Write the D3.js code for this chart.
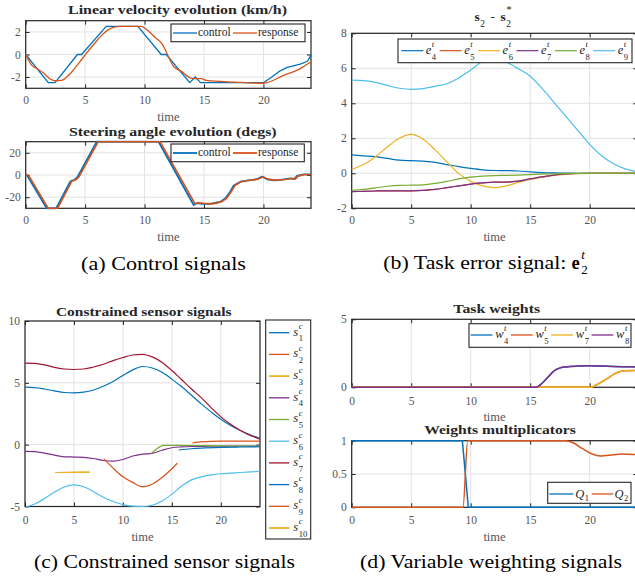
<!DOCTYPE html>
<html>
<head>
<meta charset="utf-8">
<script src="https://cdnjs.cloudflare.com/ajax/libs/d3/7.8.5/d3.min.js"></script>
<style>
  body { margin: 0; background: #fff; }
  svg { display: block; }
</style>
</head>
<body>
<svg id="fig" width="635" height="577"></svg>
<script>
// ---- data ----
var xTicks = [0, 5, 10, 15, 20];

// (a) linear velocity (km/h)
var velCtrlT = [0, 1.9, 2.47, 4.35, 4.7, 6.77, 9.43, 11.4, 11.82, 13.8, 14.27, 14.7, 20.0, 20.7, 21.4, 22.0, 23.1, 23.7, 24];
var velCtrlV = [0, -2.5, -2.5, 0, 0, 2.5, 2.5, 0, 0, -2.5, -2.0, -2.5, -2.5, -2.0, -1.45, -1.15, -0.85, -0.6, -0.05];
var velRespT = [0, 0.5, 0.95, 1.5, 2.1, 2.5, 3.0, 3.7, 4.55, 5.1, 5.8, 6.4, 7.2, 7.9, 9.7, 10.3, 10.9, 11.5, 11.9, 12.4, 13.1, 13.9, 14.4, 14.8, 15.2, 17.6, 20.0, 21.7, 23.1, 24];
var velRespV = [0, -0.95, -1.25, -1.65, -2.2, -2.33, -2.3, -1.75, -0.65, 0.1, 1.0, 1.72, 2.35, 2.5, 2.5, 2.1, 1.5, 0.9, 0.05, -1.0, -1.5, -2.1, -2.15, -2.15, -2.3, -2.45, -2.55, -1.85, -1.25, -0.65];

// (a) steering angle (degs)
var steerCtrlT = [0, 0.1, 1.77, 2.56, 3.74, 3.9, 4.07, 4.35, 5.98, 11.18, 14.13, 14.4, 14.83, 15.5, 16.0, 16.4, 16.8, 17.2, 17.5, 18.06, 18.6, 19.2, 19.5, 19.9, 20.3, 20.9, 21.3, 21.7, 22.3, 22.6, 22.8, 23.4, 24];
var steerCtrlV = [0, 0, -30, -30, -6, -5, -4.5, -2, 30, 30, -27, -25.4, -26, -26, -25, -24, -21, -15, -9.5, -6, -5, -4.2, -3.5, -1.5, -3.9, -4.8, -4.5, -4, -3, -3.6, -0.9, 0.5, 0.5];
var steerRespT = [0, 0.22, 1.9, 2.68, 3.86, 4.02, 4.2, 4.47, 6.1, 11.3, 14.25, 14.55, 14.95, 15.6, 16.1, 16.5, 16.9, 17.3, 17.6, 18.15, 18.7, 19.3, 19.6, 20.0, 20.4, 21.0, 21.4, 21.8, 22.4, 22.7, 22.9, 23.5, 24];
var steerRespV = [0.5, 0, -30, -30, -6, -5, -4.5, -2, 30, 30, -26, -25, -25.5, -26, -25.3, -24, -21, -15, -9.5, -6, -5, -4.2, -3.5, -1.7, -3.7, -4.6, -4.4, -4, -3.1, -3.5, -1, 0.4, 0.4];

// (b) task error signal, sampled every second
var errT = d3.range(0, 25, 1);
var e4 = [1.05, 1.0, 0.95, 0.85, 0.75, 0.72, 0.7, 0.62, 0.5, 0.38, 0.28, 0.2, 0.16, 0.15, 0.13, 0.08, 0.04, 0.02, 0.01, 0, 0, 0, 0, 0, 0];
var e5 = [-1.05, -1.03, -1.01, -1.0, -1.0, -1.0, -0.98, -0.92, -0.82, -0.72, -0.62, -0.55, -0.5, -0.5, -0.45, -0.32, -0.2, -0.1, -0.04, -0.01, 0, 0, 0, 0, 0];
var e6 = [0.23, 0.5, 0.95, 1.5, 2.0, 2.22, 1.95, 1.35, 0.65, -0.02, -0.45, -0.72, -0.82, -0.72, -0.52, -0.35, -0.22, -0.12, -0.06, -0.02, 0, 0, 0, 0, 0];
var e7 = [-1.05, -1.03, -1.01, -1.0, -1.0, -1.0, -0.98, -0.92, -0.82, -0.72, -0.62, -0.55, -0.5, -0.5, -0.45, -0.32, -0.2, -0.1, -0.04, -0.01, 0, 0, 0, 0, 0];
var e8 = [-0.97, -0.92, -0.83, -0.74, -0.69, -0.68, -0.66, -0.58, -0.46, -0.32, -0.22, -0.16, -0.13, -0.12, -0.1, -0.08, -0.05, -0.03, -0.01, 0, 0, 0, 0, 0, 0];
var e9 = [5.32, 5.3, 5.2, 5.02, 4.86, 4.8, 4.84, 4.97, 5.12, 5.45, 5.9, 6.4, 6.6, 6.35, 5.98, 5.55, 4.85, 4.05, 3.25, 2.45, 1.65, 1.0, 0.55, 0.25, 0.08];

// (c) constrained sensor signals
var sT = d3.range(0, 25, 1);
var s1 = [4.65, 4.62, 4.5, 4.35, 4.22, 4.19, 4.25, 4.42, 4.72, 5.1, 5.6, 6.05, 6.32, 6.2, 5.85, 5.3, 4.68, 4.0, 3.3, 2.65, 2.05, 1.55, 1.15, 0.8, 0.5];
var s4 = [-0.55, -0.57, -0.68, -0.85, -0.98, -1.0, -1.02, -1.12, -1.28, -1.33, -1.2, -0.92, -0.77, -0.7, -0.45, -0.25, -0.18, -0.15, -0.14, -0.13, -0.13, -0.12, -0.12, -0.12, -0.12];
var s6 = [-5.08, -4.8, -4.35, -3.85, -3.42, -3.25, -3.4, -3.8, -4.25, -4.6, -4.85, -4.97, -5.0, -4.9, -4.55, -4.0, -3.35, -2.85, -2.6, -2.45, -2.35, -2.3, -2.25, -2.2, -2.17];
var s7 = [6.59, 6.57, 6.45, 6.25, 6.12, 6.08, 6.12, 6.28, 6.5, 6.8, 7.05, 7.25, 7.3, 7.1, 6.65, 6.0, 5.25, 4.5, 3.8, 3.0, 2.25, 1.65, 1.15, 0.75, 0.45];
var s2T = [17.1, 18, 19, 20, 24];
var s2 = [0.15, 0.22, 0.27, 0.28, 0.28];
var s3T = [3.1, 6.6];
var s3 = [-2.25, -2.22];
var s5T = [12.9, 14.2, 16, 18, 20, 22, 24];
var s5 = [-0.72, -0.05, -0.05, -0.08, -0.1, -0.12, -0.12];
var s8T = [15.7, 17, 18, 20, 22, 24];
var s8 = [-0.43, -0.33, -0.28, -0.22, -0.19, -0.17];
var s9T = [8.05, 9, 10, 11, 12, 13, 14, 15, 15.55];
var s9 = [-1.15, -1.9, -2.6, -3.05, -3.4, -3.2, -2.65, -1.95, -1.5];
var s10T = [3.1, 6.6];
var s10 = [-2.25, -2.22];

// (d) task weights and multiplicators
var wT = [0, 15.5, 16, 16.5, 17, 17.5, 18, 19, 20, 21, 22, 23, 24];
var w4 = [0, 0, 0.3, 0.75, 1.2, 1.42, 1.5, 1.56, 1.58, 1.56, 1.53, 1.51, 1.5];
var w8 = [0, 0, 0.3, 0.76, 1.21, 1.43, 1.5, 1.56, 1.58, 1.56, 1.53, 1.51, 1.5];
var w57T = [0, 20.1, 20.5, 21, 21.5, 22, 22.5, 23, 24];
var w5 = [0, 0, 0.15, 0.4, 0.65, 0.95, 1.15, 1.22, 1.24];
var w7 = [0, 0, 0.15, 0.4, 0.65, 0.95, 1.15, 1.22, 1.24];
var q1T = [0, 9.3, 9.8, 24];
var q1 = [1, 1, 0, 0];
var q2T = [0, 9.35, 9.75, 18, 18.6, 19.4, 20.2, 20.9, 22, 22.7, 24];
var q2 = [0, 0, 1, 1, 0.97, 0.88, 0.8, 0.77, 0.79, 0.8, 0.79];

// ---- drawing ----
var SERIF = '"Liberation Serif", "Times New Roman", serif';
var INK = '#262626';
var COL = ['#0072BD', '#D95319', '#EDB120', '#7E2F8E', '#77AC30', '#4DBEEE', '#A2142F'];
var svg = d3.select('#fig');
var clipCount = 0;

function fmt(d) { return String(d); }

function panel(o) {
  var x = d3.scaleLinear().domain([0, 24]).range([o.l, o.r]);
  var y = d3.scaleLinear().domain(o.yd).range([o.b, o.t]);
  var g = svg.append('g');

  g.append('g').selectAll('line').data(xTicks).join('line')
    .attr('x1', function (d) { return x(d); }).attr('x2', function (d) { return x(d); })
    .attr('y1', o.t).attr('y2', o.b)
    .attr('stroke', '#e2e2e2').attr('stroke-width', 1);
  g.append('g').selectAll('line').data(o.yt).join('line')
    .attr('y1', function (d) { return y(d); }).attr('y2', function (d) { return y(d); })
    .attr('x1', o.l).attr('x2', o.r)
    .attr('stroke', '#e2e2e2').attr('stroke-width', 1);

  var ax = g.append('g');
  ax.append('g').attr('transform', 'translate(0,' + o.b + ')')
    .call(d3.axisBottom(x).tickValues(xTicks).tickSize(-4).tickPadding(o.xpad).tickFormat(fmt));
  ax.append('g').attr('transform', 'translate(' + o.l + ',0)')
    .call(d3.axisLeft(y).tickValues(o.yt).tickSize(-4).tickPadding(5).tickFormat(fmt));
  ax.append('g').attr('transform', 'translate(0,' + o.t + ')')
    .call(d3.axisTop(x).tickValues(xTicks).tickSize(-4).tickFormat(''));
  ax.append('g').attr('transform', 'translate(' + o.r + ',0)')
    .call(d3.axisRight(y).tickValues(o.yt).tickSize(-4).tickFormat(''));
  ax.selectAll('.domain').remove();
  ax.selectAll('.tick line').attr('stroke', INK);
  ax.selectAll('.tick text').attr('fill', '#555')
    .style('font-family', SERIF).style('font-size', '11.5px');

  g.append('rect').attr('x', o.l).attr('y', o.t)
    .attr('width', o.r - o.l).attr('height', o.b - o.t)
    .attr('fill', 'none').attr('stroke', INK).attr('stroke-width', 1.2);

  g.append('text').attr('x', (o.l + o.r) / 2).attr('y', o.b + o.labDy)
    .attr('text-anchor', 'middle').attr('font-family', SERIF).attr('font-size', 12.5)
    .attr('fill', '#555').text('time');

  if (o.title) {
    g.append('text').attr('x', o.title.cx).attr('y', o.title.y)
      .attr('text-anchor', 'middle').attr('font-family', SERIF).attr('font-weight', 'bold')
      .attr('font-size', o.title.size).attr('fill', INK)
      .attr('textLength', o.title.w).attr('lengthAdjust', 'spacingAndGlyphs')
      .text(o.title.text);
  }

  var id = 'clip' + (clipCount++);
  svg.append('clipPath').attr('id', id).append('rect')
    .attr('x', o.l - 1).attr('y', o.t - 1.5)
    .attr('width', o.r - o.l + 2).attr('height', o.b - o.t + 3);
  var plot = svg.append('g').attr('clip-path', 'url(#' + id + ')');

  function series(T, V, color, w, curve) {
    var line = d3.line()
      .x(function (d) { return x(d[0]); })
      .y(function (d) { return y(d[1]); })
      .curve(curve || d3.curveMonotoneX);
    plot.append('path').datum(d3.zip(T, V))
      .attr('d', line).attr('fill', 'none')
      .attr('stroke', color).attr('stroke-width', w || 1.2)
      .attr('stroke-linejoin', 'round');
  }
  return { x: x, y: y, series: series };
}

function legendBox(x0, y0, x1, y1) {
  svg.append('rect').attr('x', x0).attr('y', y0)
    .attr('width', x1 - x0).attr('height', y1 - y0)
    .attr('fill', '#fff').attr('stroke', INK).attr('stroke-width', 1.1);
}
function legendLine(x0, x1, yy, color, w) {
  svg.append('line').attr('x1', x0).attr('x2', x1).attr('y1', yy).attr('y2', yy)
    .attr('stroke', color).attr('stroke-width', w || 1.2);
}
function plainText(x, yy, str, size) {
  svg.append('text').attr('x', x).attr('y', yy).attr('font-family', SERIF)
    .attr('font-size', size).attr('fill', INK).text(str);
}
// symbol with superscript and subscript, yc = vertical centre of the symbol
function mathText(x, yc, base, sup, sub, o) {
  o = o || {};
  var size = o.size || 12, small = o.small || 8.5;
  var t = svg.append('text').attr('x', x).attr('y', yc + (o.baseDy || 2.8))
    .attr('font-family', SERIF).attr('font-size', size)
    .attr('font-style', o.upright ? null : 'italic')
    .attr('font-weight', o.bold ? 'bold' : null)
    .attr('fill', o.fill || INK).text(base);
  var w = t.node().getComputedTextLength();
  if (sup) {
    svg.append('text').attr('x', x + w + (o.supDx || 0.5)).attr('y', yc + (o.supDy || -4.2))
      .attr('font-family', SERIF).attr('font-size', o.supSize || small)
      .attr('font-style', o.supUpright ? null : 'italic')
      .attr('font-weight', o.supBold ? 'bold' : null)
      .attr('fill', o.fill || INK).text(sup);
  }
  if (sub) {
    svg.append('text').attr('x', x + w + (o.subDx || 0.5)).attr('y', yc + (o.subDy || 9.4))
      .attr('font-family', SERIF).attr('font-size', o.subSize || small)
      .attr('font-weight', o.subBold ? 'bold' : null)
      .attr('fill', o.fill || INK).text(sub);
  }
  return w;
}
function caption(x, yy, str, w) {
  svg.append('text').attr('x', x).attr('y', yy).attr('font-family', SERIF)
    .attr('font-size', 18.5).attr('fill', '#000')
    .attr('textLength', w).attr('lengthAdjust', 'spacingAndGlyphs').text(str);
}

// (a) top: linear velocity
var pA1 = panel({ l: 25.7, r: 311, t: 20.7, b: 88.3, yd: [-3, 3], yt: [-2, 0, 2], xpad: 7.3, labDy: 32.7,
  title: { text: 'Linear velocity evolution (km/h)', cx: 177.5, y: 14.3, size: 13, w: 219 } });
pA1.series(velCtrlT, velCtrlV, COL[0], 1.3, d3.curveLinear);
pA1.series(velRespT, velRespV, COL[1], 1.3, d3.curveMonotoneX);
legendBox(171, 24, 305, 41.7);
legendLine(173, 197, 33, COL[0], 1.3);
plainText(198, 35.8, 'control', 11.5);
legendLine(233, 257, 33, COL[1], 1.3);
plainText(258, 35.8, 'response', 11.5);

// (a) bottom: steering angle
var pA2 = panel({ l: 25.7, r: 311, t: 141.7, b: 208.3, yd: [-30, 30], yt: [-20, 0, 20], xpad: 7.3, labDy: 32.7,
  title: { text: 'Steering angle evolution (degs)', cx: 172.8, y: 136, size: 13, w: 207.7 } });
pA2.series(steerCtrlT, steerCtrlV, COL[0], 1.8, d3.curveLinear);
pA2.series(steerRespT, steerRespV, COL[1], 1.6, d3.curveLinear);
legendBox(171, 144, 304.3, 161.7);
legendLine(173, 197, 153, COL[0], 1.8);
plainText(198, 155.8, 'control', 11.5);
legendLine(233, 257, 153, COL[1], 1.8);
plainText(258, 155.8, 'response', 11.5);
caption(81, 270, '(a) Control signals', 165);

// (b) task error
var pB = panel({ l: 351.7, r: 637.3, t: 33.3, b: 208.3, yd: [-2, 8], yt: [-2, 0, 2, 4, 6, 8], xpad: 7.3, labDy: 32.4 });
var eSeries = [e4, e5, e6, e7, e8, e9];
eSeries.forEach(function (v, i) { pB.series(errT, v, COL[i], 1.2); });
// title  s_2 - s_2^*
var tw = mathText(474.5, 17.5, 's', null, '2', { size: 13.5, bold: true, upright: true, baseDy: 3.2, subDy: 9.6, small: 9.5 });
plainText(490.5, 20.7, '-', 13);
mathText(500.5, 17.5, 's', '*', '2', { size: 13.5, bold: true, upright: true, supUpright: true, baseDy: 3.2, supDy: -4.5, subDy: 9.6, small: 9.5, supSize: 11 });
legendBox(398, 39, 632, 62.7);
eSeries.forEach(function (v, i) {
  var x0 = 401.3 + i * 38.4;
  legendLine(x0, x0 + 22, 50.7, COL[i], 1.2);
  mathText(x0 + 24.5, 50.7, 'e', 't', String(i + 4), { size: 12.5 });
});
caption(383.3, 269.3, '(b) Task error signal:', 183);
mathText(571.5, 264.3, 'e', 't', '2', { size: 18.5, bold: true, upright: true, baseDy: 5, supDy: -5.5, subDy: 9.5, small: 13, supDx: 1.5, subDx: 1.5, fill: '#000' });

// (c) constrained sensor signals
var pC = panel({ l: 25, r: 260, t: 321, b: 506.5, yd: [-5, 10], yt: [-5, 0, 5, 10], xpad: 9, labDy: 34.5,
  title: { text: 'Constrained sensor signals', cx: 143.8, y: 315.7, size: 13.5, w: 175.7 } });
var sSeries = [[sT, s1], [s2T, s2], [s3T, s3], [sT, s4], [s5T, s5], [sT, s6], [sT, s7], [s8T, s8], [s9T, s9], [s10T, s10]];
var sCols = [COL[0], COL[1], COL[2], COL[3], COL[4], COL[5], COL[6], COL[0], COL[1], COL[2]];
sSeries.forEach(function (s, i) { pC.series(s[0], s[1], sCols[i], 1.2); });
legendBox(265.7, 320, 310.7, 539);
sSeries.forEach(function (s, i) {
  var yy = 332.7 + i * 21.7;
  legendLine(269, 289.3, yy, sCols[i], i === 2 || i === 9 ? 1.8 : 1.3);
  mathText(293.3, yy, 's', 'c', String(i + 1), { size: 12.5, supDy: -3.6, subDy: 8.6 });
});
caption(34, 567.7, '(c) Constrained sensor signals', 261);

// (d) top: task weights
var pD1 = panel({ l: 351.7, r: 637.3, t: 319.3, b: 387.3, yd: [0, 5], yt: [0, 5], xpad: 9.3, labDy: 33.4,
  title: { text: 'Task weights', cx: 496.7, y: 313.3, size: 13.5, w: 86.7 } });
var wSeries = [[wT, w4], [w57T, w5], [w57T, w7], [wT, w8]];
var wCols = [COL[0], COL[1], COL[2], COL[3]];
var wNames = ['4', '5', '7', '8'];
wSeries.forEach(function (s, i) { pD1.series(s[0], s[1], wCols[i], 1.5); });
legendBox(469, 323.7, 631, 347.3);
wSeries.forEach(function (s, i) {
  var x0 = 470.7 + i * 40.3;
  legendLine(x0, x0 + 21.7, 335, wCols[i], 1.3);
  mathText(x0 + 24.5, 335, 'w', 't', wNames[i], { size: 12.5 });
});

// (d) bottom: weights multiplicators
var pD2 = panel({ l: 351.7, r: 637.3, t: 440.7, b: 507.3, yd: [0, 1], yt: [0, 0.5, 1], xpad: 8.3, labDy: 34,
  title: { text: 'Weights multiplicators', cx: 500, y: 434.3, size: 13.5, w: 151.7 } });
pD2.series(q1T, q1, COL[0], 1.5, d3.curveLinear);
pD2.series(q2T, q2, COL[1], 1.5, d3.curveMonotoneX);
legendBox(547.7, 482.3, 631, 503.3);
legendLine(549.3, 573.3, 494, COL[0], 1.3);
mathText(575.3, 494, 'Q', null, '1', { size: 12.5, baseDy: 4, subDy: 7 });
legendLine(591.7, 613.3, 494, COL[1], 1.3);
mathText(614.5, 494, 'Q', null, '2', { size: 12.5, baseDy: 4, subDy: 7 });
caption(360, 567.5, '(d) Variable weighting signals', 262);
</script>
</body>
</html>
